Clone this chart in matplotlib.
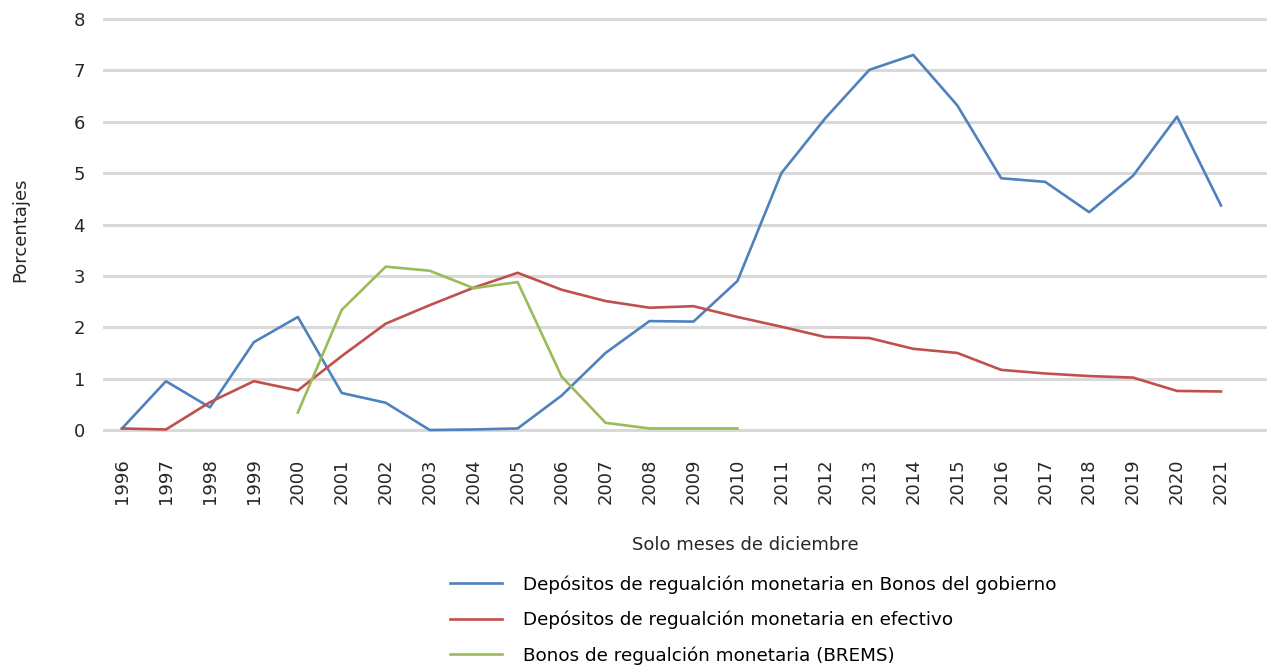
import numpy as np
import matplotlib
matplotlib.use("Agg")
import matplotlib.pyplot as plt

plt.rcParams["font.family"] = ["DejaVu Sans"]

years = list(range(1996, 2022))

bonos_gobierno = [0.03, 0.95, 0.44, 1.71, 2.20, 0.72, 0.53, 0.00, 0.01, 0.03,
                  0.67, 1.50, 2.12, 2.11, 2.90, 5.00, 6.07, 7.01, 7.30, 6.32,
                  4.90, 4.83, 4.24, 4.95, 6.10, 4.37]
efectivo = [0.03, 0.01, 0.54, 0.95, 0.77, 1.44, 2.07, 2.43, 2.77, 3.06,
            2.73, 2.51, 2.38, 2.41, 2.20, 2.01, 1.81, 1.79, 1.58, 1.50,
            1.17, 1.10, 1.05, 1.02, 0.76, 0.75]
brems_years = list(range(2000, 2011))
brems = [0.34, 2.34, 3.18, 3.10, 2.76, 2.88, 1.04, 0.14, 0.03, 0.03, 0.03]

labels = ["Depósitos de regualción monetaria en Bonos del gobierno",
          "Depósitos de regualción monetaria en efectivo",
          "Bonos de regualción monetaria (BREMS)"]
colors = ["#4F81BD", "#C0504D", "#9BBB59"]
text_color = "#262626"

W, H = 1267, 665
# y = 0 sits at pixel row 430, y = 8 at row 19; pad the limits a little so
# the outer gridlines are not clipped
y0_px, y8_px = 430, 19
ppu = (y0_px - y8_px) / 8
ylo, yhi = -0.12, 8.12
top_px = y8_px - (yhi - 8) * ppu
bot_px = y0_px + (0 - ylo) * ppu
fig = plt.figure(figsize=(W / 100, H / 100), dpi=100)
ax = fig.add_axes([103 / W, 1 - bot_px / H, (1267 - 103) / W, (bot_px - top_px) / H])

l1, = ax.plot(years, bonos_gobierno, color=colors[0], lw=1.9)
l2, = ax.plot(years, efectivo, color=colors[1], lw=1.9)
l3, = ax.plot(brems_years, brems, color=colors[2], lw=1.9)

px = (1221 - 122) / 25
ax.set_xlim(1996 - 19 / px, 2021 + 46 / px)
ax.set_ylim(ylo, yhi)
ax.set_yticks(range(0, 9))
ax.set_xticks(years)
ax.set_xticklabels([str(y) for y in years], rotation=90, fontsize=13, color=text_color)
ax.tick_params(axis="y", labelsize=13, labelcolor=text_color, length=0, pad=13)
ax.tick_params(axis="x", length=0, pad=16)
ax.grid(axis="y", color="#d9d9d9", lw=2.2)
ax.set_axisbelow(True)
for s in ax.spines.values():
    s.set_visible(False)

fig.text(745 / W, 1 - 545 / H, "Solo meses de diciembre", ha="center", va="center",
         fontsize=13, color=text_color)
fig.text(20 / W, 1 - 230 / H, "Porcentajes", ha="center", va="center",
         rotation=90, fontsize=13, color=text_color)

fig.legend([l1, l2, l3], labels, loc="upper left", bbox_to_anchor=(450 / W, 1 - 575 / H),
           frameon=False, fontsize=13.2, handlelength=2.85, handletextpad=1.15,
           labelspacing=0.93, borderaxespad=0, borderpad=0)

fig.savefig("out.png", dpi=100)
